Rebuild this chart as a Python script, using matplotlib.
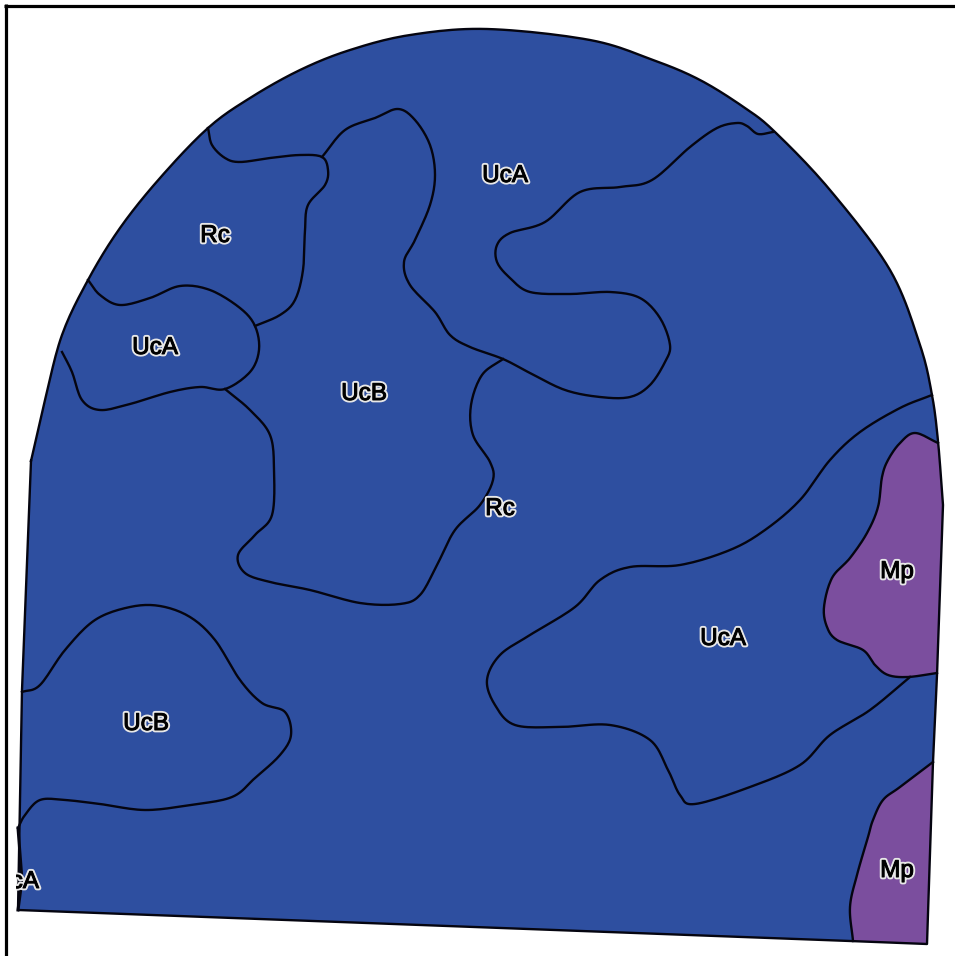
import matplotlib
matplotlib.use("Agg")
import matplotlib.pyplot as plt
import numpy as np
from matplotlib.patches import Rectangle
import matplotlib.patheffects as pe

# boundary traces in pixels
dome = [(31, 461), (45, 400), (62, 335), (88, 280), (120, 228), (160, 178), (208, 128), (250, 98),
        (300, 70), (350, 50), (410, 35), (487, 29), (590, 40), (653, 60), (700, 80), (745, 108), (775, 132),
        (830, 190), (890, 270), (920, 345), (932, 395), (938, 441), (943, 505)]
right_edge = [(943, 505), (937, 675), (933, 762), (927, 944)]
bottom_edge = [(927, 944), (850, 941), (18, 910)]
left_edge = [(18, 910), (22, 690), (31, 461)]

rc_top = [(208, 128), (212, 145), (225, 158), (240, 162), (270, 158), (300, 155), (322, 157),
          (328, 170), (325, 185), (308, 205), (305, 230), (303, 270), (295, 300), (280, 315), (255, 326)]
uca_top = [(322, 157), (345, 130), (375, 118), (398, 109), (415, 120), (430, 145), (435, 175),
           (430, 205), (415, 240), (404, 262), (410, 285), (435, 312), (450, 335), (470, 347),
           (503, 359), (530, 373), (565, 390), (600, 397), (630, 397), (650, 385), (665, 362),
           (670, 345), (660, 318), (640, 298), (610, 292), (570, 294), (530, 292), (510, 278),
           (497, 262), (497, 245), (510, 233), (545, 222), (580, 192), (620, 187), (652, 180),
           (690, 147), (717, 128), (737, 123), (747, 126), (758, 134), (773, 132)]
uca_left = [(88, 280), (100, 295), (120, 305), (150, 298), (180, 286), (210, 290), (240, 308),
            (255, 326), (259, 350), (250, 372), (225, 389), (200, 387), (170, 392), (130, 404),
            (100, 410), (82, 400), (72, 372), (62, 352)]
ucb_mid = [(225, 389), (250, 410), (270, 435), (274, 470), (272, 515), (255, 535), (238, 555),
           (245, 573), (270, 582), (310, 590), (360, 603), (400, 604), (420, 595), (437, 565),
           (455, 530), (480, 505), (493, 480), (490, 462), (473, 435), (471, 405), (482, 375), (503, 359)]
uca_right = [(932, 395), (900, 408), (860, 432), (830, 460), (800, 500), (765, 530), (730, 550),
             (680, 565), (630, 567), (600, 580), (575, 607), (530, 635), (500, 655), (487, 680),
             (495, 705), (515, 725), (560, 727), (610, 725), (650, 740), (668, 770), (680, 795),
             (695, 804), (750, 787), (800, 765), (830, 735), (870, 710), (910, 677)]
ucb_low = [(22, 692), (40, 685), (65, 650), (95, 620), (130, 607), (160, 606), (190, 617), (215, 640),
           (240, 680), (262, 703), (285, 712), (291, 735), (280, 755), (255, 778), (232, 797),
           (190, 805), (145, 810), (100, 804), (65, 800), (40, 800), (25, 815), (18, 828)]
sliver = [(18, 828), (22, 880), (18, 910)]
mp_upper = [(938, 443), (915, 433), (900, 443), (888, 460), (882, 477), (878, 507), (867, 533),
            (850, 558), (832, 578), (824, 607), (827, 627), (837, 640), (863, 650), (875, 665),
            (888, 675), (908, 677), (937, 673)]
mp_upper_edge = [(937, 673), (943, 505), (938, 443)]
mp_lower = [(933, 762), (900, 787), (883, 800), (873, 820), (868, 837), (857, 875), (850, 907), (853, 941)]
mp_lower_edge = [(853, 941), (927, 944), (933, 762)]

label_text = ["UcA", "Rc", "UcA", "UcB", "Rc", "Mp", "UcA", "UcB", "Mp", "UcA"]
label_x = [505, 215, 155, 364, 500, 897, 723, 146, 897, 16]
label_y = [174, 234, 346, 392, 507, 570, 637, 722, 869, 880]


def smooth(pts, n=12):
    # catmull-rom through the traced points
    p = np.array(pts, dtype=float)
    p = np.vstack([2 * p[0] - p[1], p, 2 * p[-1] - p[-2]])
    t = np.linspace(0, 1, n, endpoint=False)[:, None]
    out = []
    for i in range(1, len(p) - 2):
        a, b, c, d = p[i - 1], p[i], p[i + 1], p[i + 2]
        out.append(0.5 * (2 * b + (c - a) * t + (2 * a - 5 * b + 4 * c - d) * t ** 2
                          + (3 * b - a - 3 * c + d) * t ** 3))
    out.append(p[-2][None, :])
    return np.vstack(out)


fig = plt.figure(figsize=(9.55, 9.56), dpi=100)
ax = fig.add_axes([0, 0, 1, 1])
ax.set_xlim(0, 955)
ax.set_ylim(956, 0)
ax.axis("off")

blue = "#2e4fa0"
purple = "#7b4e9e"
line_c = "#050510"
line_w = 1.7

outline = np.vstack([smooth(dome), right_edge, bottom_edge, left_edge])
ax.fill(outline[:, 0], outline[:, 1], color=blue, lw=0, zorder=1)

upper = np.vstack([smooth(mp_upper), mp_upper_edge])
lower = np.vstack([smooth(mp_lower), mp_lower_edge])
ax.fill(upper[:, 0], upper[:, 1], color=purple, lw=0, zorder=2)
ax.fill(lower[:, 0], lower[:, 1], color=purple, lw=0, zorder=2)

ax.plot(outline[:, 0], outline[:, 1], color=line_c, lw=line_w, zorder=3, solid_joinstyle="round")
for trace in [rc_top, uca_top, uca_left, ucb_mid, uca_right, ucb_low, mp_upper, mp_lower]:
    xy = smooth(trace)
    ax.plot(xy[:, 0], xy[:, 1], color=line_c, lw=line_w, zorder=3)
ax.plot([q[0] for q in sliver], [q[1] for q in sliver], color=line_c, lw=2.2, zorder=3)

# frame only on the top and left
ax.plot([5.5, 5.5], [4, 956], color="black", lw=2.3, zorder=5, solid_capstyle="butt")
ax.plot([4, 955], [5.5, 5.5], color="black", lw=2.3, zorder=5, solid_capstyle="butt")

# the last label runs off the map, so everything left of x=16 is clipped
clip = Rectangle((16, 0), 939, 956, transform=ax.transData)
halo = [pe.Stroke(linewidth=3.4, foreground="#e8e8e8"),
        pe.Stroke(linewidth=0.7, foreground="black"),
        pe.Normal()]
for s, x, y in zip(label_text, label_x, label_y):
    t = ax.text(x, y + 2, s, family="Liberation Sans", fontsize=17.5, color="black",
                ha="center", va="center", zorder=4, path_effects=halo)
    t.set_clip_path(clip)
    t.set_clip_on(True)

fig.savefig("out.png", dpi=100, facecolor="white")
